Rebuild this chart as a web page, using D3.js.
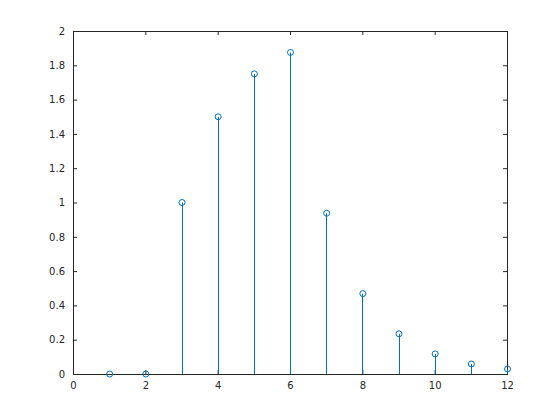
<!doctype html>
<html>
  <head>
    <meta charset="utf-8" />
    <script src="https://cdn.jsdelivr.net/npm/d3@7"></script>
    <style>
      html, body { margin: 0; background: #fff; }
      text { font-family: "DejaVu Sans", sans-serif; font-size: 10px; fill: #262626; }
    </style>
  </head>
  <body>
    <script>
      // stem data
      const xs = [1, 2, 3, 4, 5, 6, 7, 8, 9, 10, 11, 12];
      const ys = [0, 0, 1, 1.5, 1.75, 1.875, 0.9375, 0.46875, 0.234375, 0.1171875, 0.05859375, 0.029296875];
      const xTicks = [0, 2, 4, 6, 8, 10, 12];
      const yTicks = [0, 0.2, 0.4, 0.6, 0.8, 1, 1.2, 1.4, 1.6, 1.8, 2];

      const width = 560, height = 420;
      const L = 73, R = 507, T = 31, B = 374;
      const blue = "#0072BD", axisColor = "#262626";

      const x = d3.scaleLinear().domain([0, 12]).range([L, R]);
      const y = d3.scaleLinear().domain([0, 2]).range([B, T]);

      const svg = d3.select("body").append("svg")
        .attr("width", width).attr("height", height);

      const tl = 4;
      // bottom axis
      svg.append("g").attr("transform", `translate(0,${B})`)
        .call(d3.axisBottom(x).tickValues(xTicks).tickSizeInner(-tl).tickSizeOuter(0).tickPadding(8).tickFormat(d3.format("~g")))
        .call(g => g.select(".domain").remove());
      // top ticks
      svg.append("g").attr("transform", `translate(0,${T})`)
        .call(d3.axisTop(x).tickValues(xTicks).tickSizeInner(-tl).tickSizeOuter(0).tickFormat(""))
        .call(g => g.select(".domain").remove());
      // left axis
      svg.append("g").attr("transform", `translate(${L},0)`)
        .call(d3.axisLeft(y).tickValues(yTicks).tickSizeInner(-tl).tickSizeOuter(0).tickPadding(8).tickFormat(d3.format("~g")))
        .call(g => g.select(".domain").remove());
      // right ticks
      svg.append("g").attr("transform", `translate(${R},0)`)
        .call(d3.axisRight(y).tickValues(yTicks).tickSizeInner(-tl).tickSizeOuter(0).tickFormat(""))
        .call(g => g.select(".domain").remove());

      svg.selectAll(".tick line").attr("stroke", axisColor);
      svg.selectAll(".tick text").attr("fill", axisColor).attr("font-size", 10).attr("font-family", "DejaVu Sans, sans-serif");

      // box
      svg.append("rect")
        .attr("x", L + 0.5).attr("y", T + 0.5)
        .attr("width", R - L).attr("height", B - T)
        .attr("fill", "none").attr("stroke", axisColor).attr("stroke-width", 1);

      const data = xs.map((v, i) => ({ x: v, y: ys[i] }));

      svg.append("g").selectAll("line").data(data).join("line")
        .attr("x1", d => Math.round(x(d.x)) + 0.5).attr("x2", d => Math.round(x(d.x)) + 0.5)
        .attr("y1", y(0)).attr("y2", d => y(d.y))
        .attr("stroke", blue).attr("stroke-width", 1);

      svg.append("g").selectAll("circle").data(data).join("circle")
        .attr("cx", d => x(d.x) + 0.5).attr("cy", d => y(d.y))
        .attr("r", 3).attr("fill", "none")
        .attr("stroke", blue).attr("stroke-width", 1);
    </script>
  </body>
</html>
